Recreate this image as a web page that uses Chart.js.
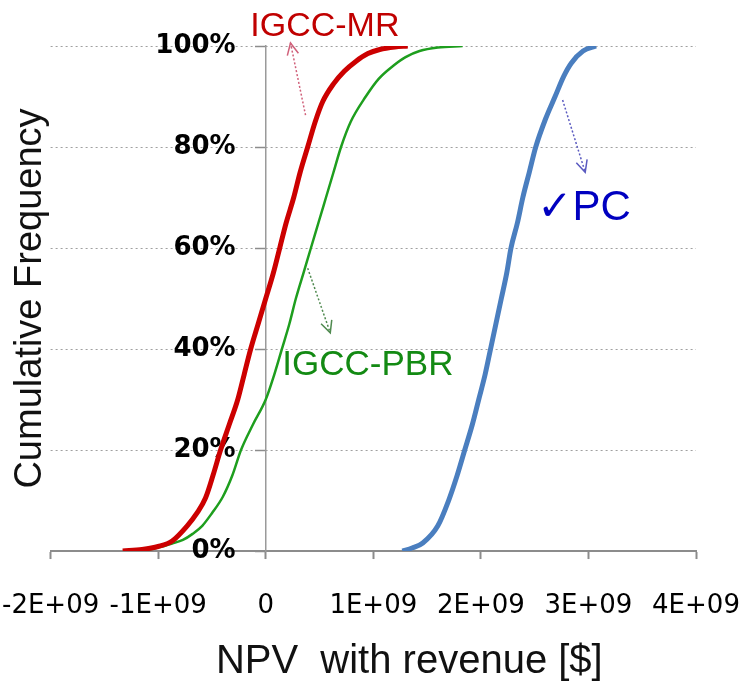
<!DOCTYPE html>
<html>
<head>
<meta charset="utf-8">
<title>NPV with revenue - cumulative frequency</title>
<script src="https://cdn.jsdelivr.net/npm/chart.js@4.4.1/dist/chart.umd.min.js"></script>
<style>
  html, body { margin: 0; padding: 0; background: #ffffff; }
  #chartJSContainer { display: block; }
</style>
</head>
<body>
<canvas id="chartJSContainer" width="742" height="681"></canvas>
<script>
// NPV with revenue [$] vs cumulative frequency [%]
const mrNpv = [-1.33e9, -1.15e9, -1.0e9, -0.87e9, -0.73e9, -0.64e9, -0.56e9, -0.49e9, -0.42e9, -0.34e9,
  -0.26e9, -0.2e9, -0.14e9, -0.07e9, 0.0, 0.07e9, 0.13e9, 0.19e9, 0.26e9, 0.32e9, 0.39e9,
  0.46e9, 0.53e9, 0.63e9, 0.73e9, 0.84e9, 0.95e9, 1.06e9, 1.2e9, 1.32e9];
const mrFreq = [0, 0.3, 0.9, 2, 5, 7.5, 10.5, 15, 20, 25,
  30, 35, 40, 45, 50, 55, 60, 65, 70, 75, 80,
  85, 89, 92.5, 95, 97, 98.5, 99.3, 99.8, 100];

const pbrNpv = [-1.15e9, -1.0e9, -0.87e9, -0.77e9, -0.68e9, -0.59e9, -0.5e9, -0.4e9, -0.31e9, -0.23e9,
  -0.12e9, 0.0, 0.08e9, 0.15e9, 0.22e9, 0.28e9, 0.35e9, 0.42e9, 0.49e9, 0.56e9, 0.63e9,
  0.7e9, 0.79e9, 0.93e9, 1.05e9, 1.18e9, 1.3e9, 1.43e9, 1.6e9, 1.83e9];
const pbrFreq = [0, 0.7, 1.5, 2.2, 3.4, 5, 7.5, 10.7, 15, 20,
  25, 30, 35, 40, 45, 50, 55, 60, 65, 70, 75,
  80, 85, 90, 93.5, 96, 97.8, 99, 99.7, 100];

const pcNpv = [1.27e9, 1.36e9, 1.46e9, 1.6e9, 1.7e9, 1.78e9, 1.85e9, 1.92e9, 1.98e9, 2.04e9,
  2.09e9, 2.14e9, 2.19e9, 2.24e9, 2.28e9, 2.34e9, 2.39e9, 2.45e9, 2.51e9, 2.6e9, 2.69e9,
  2.77e9, 2.84e9, 2.95e9, 3.07e9];
const pcFreq = [0, 0.6, 1.6, 5, 10, 15, 20, 25, 30, 35,
  40, 45, 50, 55, 60, 65, 70, 75, 80, 85.5, 90,
  94, 96.6, 99, 100];

const xTicks = [-2e9, -1e9, 0, 1e9, 2e9, 3e9, 4e9];
const xTickLabels = ['-2E+09', '-1E+09', '0', '1E+09', '2E+09', '3E+09', '4E+09'];
const yTicks = [0, 20, 40, 60, 80, 100];
const yTickLabels = ['0%', '20%', '40%', '60%', '80%', '100%'];

const toPoints = (xs, ys) => xs.map((x, i) => ({ x: x, y: ys[i] }));

// callout labels and arrows, in data units
const notes = [
  { text: 'IGCC-MR', x: 0.55e9, y: 103.8, color: '#c00000', size: 34 },
  { text: 'IGCC-PBR', x: 0.95e9, y: 36.8, color: '#138a13', size: 35 },
  { text: '\u2713PC', x: 2.96e9, y: 67.9, color: '#0000c0', size: 42 }
];
const arrows = [
  { from: [0.37e9, 86.3], to: [0.23e9, 100.6], color: '#d0607a' },
  { from: [0.39e9, 56], to: [0.60e9, 43.2], color: '#4f8a4f' },
  { from: [2.76e9, 89.3], to: [2.97e9, 75], color: '#5a5ac0' }
];

const callouts = {
  id: 'callouts',
  afterDraw(chart) {
    const { ctx, scales, chartArea } = chart;
    ctx.save();
    arrows.forEach(a => {
      const x1 = scales.x.getPixelForValue(a.from[0]);
      const y1 = scales.y.getPixelForValue(a.from[1]);
      const x2 = scales.x.getPixelForValue(a.to[0]);
      const y2 = scales.y.getPixelForValue(a.to[1]);
      ctx.strokeStyle = a.color;
      ctx.lineWidth = 1.5;
      ctx.setLineDash([2, 2]);
      ctx.beginPath();
      ctx.moveTo(x1, y1);
      ctx.lineTo(x2, y2);
      ctx.stroke();
      const ang = Math.atan2(y2 - y1, x2 - x1);
      ctx.setLineDash([]);
      ctx.beginPath();
      ctx.moveTo(x2 - 13 * Math.cos(ang - 0.45), y2 - 13 * Math.sin(ang - 0.45));
      ctx.lineTo(x2, y2);
      ctx.lineTo(x2 - 13 * Math.cos(ang + 0.45), y2 - 13 * Math.sin(ang + 0.45));
      ctx.stroke();
    });
    ctx.textAlign = 'center';
    ctx.textBaseline = 'middle';
    notes.forEach(n => {
      ctx.fillStyle = n.color;
      ctx.font = n.size + 'px "Liberation Sans", "DejaVu Sans", sans-serif';
      ctx.fillText(n.text, scales.x.getPixelForValue(n.x), scales.y.getPixelForValue(n.y));
    });
    // axis titles: the x one sits a little right of centre in the original
    ctx.fillStyle = '#111';
    ctx.font = '40px "Liberation Sans", Arial, sans-serif';
    ctx.fillText('NPV  with revenue [$]', (chartArea.left + chartArea.right) / 2 + 36, chart.height - 19);
    ctx.font = '38px "Liberation Sans", Arial, sans-serif';
    ctx.translate(31, (chartArea.top + chartArea.bottom) / 2);
    ctx.rotate(-Math.PI / 2);
    ctx.fillText('Cumulative Frequency', 0, 0);
    ctx.restore();
  }
};

const config = {
  type: 'line',
  data: {
    datasets: [
      {
        label: 'IGCC-MR',
        data: toPoints(mrNpv, mrFreq),
        borderColor: '#cc0000',
        borderWidth: 5,
        pointRadius: 0,
        cubicInterpolationMode: 'monotone'
      },
      {
        label: 'IGCC-PBR',
        data: toPoints(pbrNpv, pbrFreq),
        borderColor: '#1e9e1e',
        borderWidth: 2.5,
        pointRadius: 0,
        cubicInterpolationMode: 'monotone'
      },
      {
        label: 'PC',
        data: toPoints(pcNpv, pcFreq),
        borderColor: '#4a7ebf',
        borderWidth: 5,
        pointRadius: 0,
        cubicInterpolationMode: 'monotone'
      }
    ]
  },
  options: {
    responsive: false,
    animation: false,
    devicePixelRatio: 1,
    layout: { padding: { left: 0, right: 46, top: 46, bottom: 28 } },
    plugins: {
      legend: { display: false },
      tooltip: { enabled: false }
    },
    scales: {
      x: {
        type: 'linear',
        min: -2e9,
        max: 4e9,
        afterBuildTicks: axis => { axis.ticks = xTicks.map(v => ({ value: v })); },
        ticks: {
          callback: (v, i) => xTickLabels[i],
          font: { family: 'DejaVu Sans', size: 26, lineHeight: 3.46 },
          color: '#000',
          padding: 2,
          maxRotation: 0,
          autoSkip: false
        },
        grid: { drawOnChartArea: false, tickLength: 8, tickColor: '#8c8c8c', tickWidth: 2 },
        border: { color: '#8c8c8c', width: 2 }
      },
      // axis line, tick marks and dotted grid, crossing at NPV = 0
      y: {
        type: 'linear',
        min: 0,
        max: 100,
        position: { x: 0 },
        afterBuildTicks: axis => { axis.ticks = yTicks.map(v => ({ value: v })); },
        ticks: { display: false },
        grid: { color: '#a0a0a0', lineWidth: 1, tickLength: 10, tickColor: '#8c8c8c', tickWidth: 1.5 },
        border: { color: '#9a9a9a', width: 1.5, dash: [2, 3] }
      },
      // percent labels, set a little left of the axis line
      yl: {
        type: 'linear',
        min: 0,
        max: 100,
        position: { x: -0.28e9 },
        afterBuildTicks: axis => { axis.ticks = yTicks.map(v => ({ value: v })); },
        ticks: {
          callback: (v, i) => yTickLabels[i],
          font: { family: 'DejaVu Sans', size: 26, weight: 'bold' },
          color: '#000'
        },
        grid: { display: false },
        border: { display: false }
      }
    }
  },
  plugins: [callouts]
};

const ctx = document.getElementById('chartJSContainer').getContext('2d');
new Chart(ctx, config);
</script>
</body>
</html>
